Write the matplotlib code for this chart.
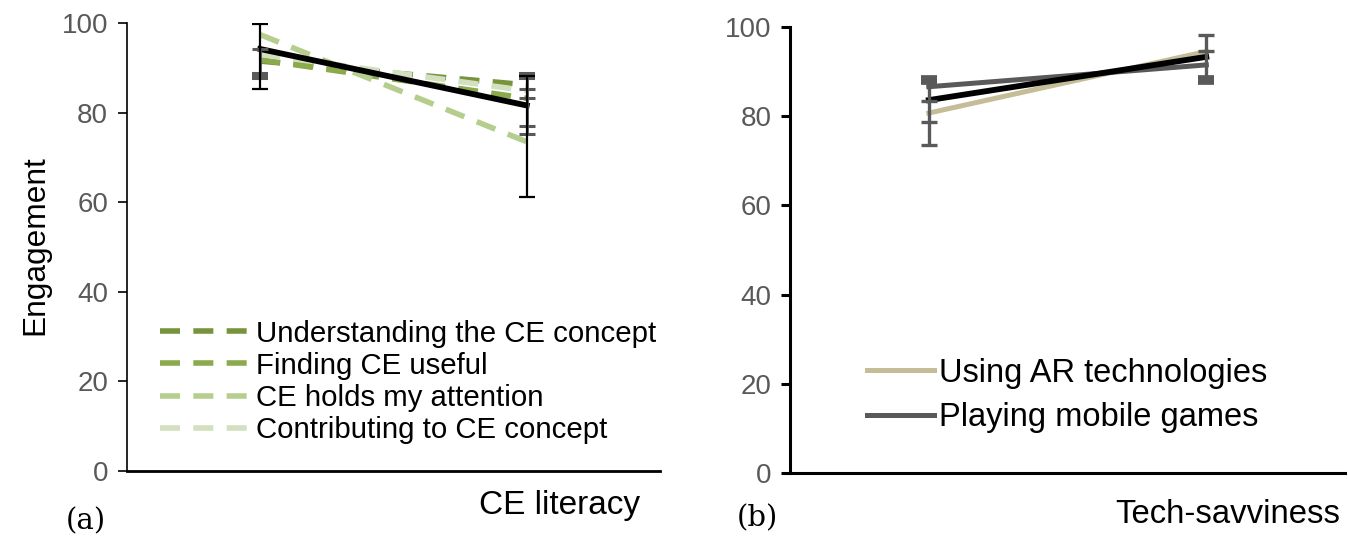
import matplotlib
matplotlib.use("Agg")
import matplotlib.pyplot as plt

plt.rcParams["font.family"] = ["Liberation Sans", "DejaVu Sans"]

# ---------------- data: panel (a) ----------------
levels = [0, 1]
mean_a = [94.2, 81.6]
mean_a_lo = [85.2, 61.1]
mean_a_hi = [99.7, 88.2]

series_a = {
    "Understanding the CE concept": [91.5, 86.2],
    "Finding CE useful": [91.8, 83.2],
    "CE holds my attention": [97.4, 73.5],
    "Contributing to CE concept": [93.0, 84.9],
}
colors_a = ["#77933C", "#8AAA4C", "#B5CE8E", "#D2E0C0"]

gray_bar_a_lo = [88.2, 75.2]
gray_bar_a_hi = [94.3, 88.2]
gray_caps_a = [[94.3], [85.2, 83.2, 77.0, 75.2]]
gray_blocks_a = [88.2, 88.2]

# ---------------- data: panel (b) ----------------
series_b = {
    "Using AR technologies": [80.7, 94.5],
    "Playing mobile games": [86.6, 91.5],
}
colors_b = ["#C4BD97", "#595959"]
mean_b = [83.6, 93.3]

gray_bar_b_lo = [73.5, 88.1]
gray_bar_b_hi = [88.1, 98.2]
gray_caps_b = [[83.5, 78.8, 73.5], [98.2, 94.5]]
gray_blocks_b = [88.1, 88.1]

yticks = [0, 20, 40, 60, 80, 100]
GRAY = "#595959"
TICK_GRAY = "#595959"


def style_axis(ax, spine_w_left, spine_w_bottom, tick_w):
    ax.set_xlim(-0.5, 1.5)
    ax.set_ylim(0, 100)
    ax.set_yticks(yticks)
    ax.set_xticks([])
    for s in ["top", "right"]:
        ax.spines[s].set_visible(False)
    ax.spines["left"].set_linewidth(spine_w_left)
    ax.spines["bottom"].set_linewidth(spine_w_bottom)
    ax.tick_params(axis="y", direction="out", length=6.5, width=tick_w,
                   pad=7, labelsize=20, labelcolor=TICK_GRAY)


def draw_gray_marks(ax, lo, hi, caps, blocks, bar_w, cap_w, block_h):
    ax.vlines(levels, lo, hi, color=GRAY, lw=bar_w, zorder=4)
    for x, vals in zip(levels, caps):
        ax.plot([x] * len(vals), vals, ls="none", marker="_", ms=11,
                mew=cap_w, color=GRAY, zorder=5)
    ax.plot(levels, blocks, ls="none", marker="_", ms=11, mew=block_h,
            color=GRAY, zorder=5)


fig = plt.figure(figsize=(13.48, 5.47), dpi=100)

# ---------------- panel (a) ----------------
ax1 = fig.add_axes([0.0942, 0.1389, 0.3954, 0.8190])
style_axis(ax1, 1.2, 2.0, 1.2)

for (name, vals), c in zip(series_a.items(), colors_a):
    ax1.plot(levels, vals, color=c, lw=4, dashes=(3.6, 2.4),
             label=name, zorder=2)
ax1.plot(levels, mean_a, color="black", lw=4.2, zorder=3)
draw_gray_marks(ax1, gray_bar_a_lo, gray_bar_a_hi, gray_caps_a,
                gray_blocks_a, 2.0, 2.2, 5.8)
ax1.errorbar(levels, mean_a,
             yerr=[[m - l for m, l in zip(mean_a, mean_a_lo)],
                   [h - m for m, h in zip(mean_a, mean_a_hi)]],
             fmt="none", ecolor="black", elinewidth=1.6, capsize=5.5,
             capthick=1.6, zorder=6)

ax1.legend(loc="upper left", bbox_to_anchor=(0.062, 0.338), frameon=False,
           fontsize=21.2, handlelength=3.0, handletextpad=0.25,
           labelspacing=0.14, borderpad=0, borderaxespad=0)
ax1.text(0.9625, -0.076, "CE literacy", transform=ax1.transAxes,
         ha="right", va="center", fontsize=24)

# ---------------- panel (b) ----------------
ax2 = fig.add_axes([0.5861, 0.1353, 0.4117, 0.8154])
style_axis(ax2, 2.2, 2.2, 2.2)

for (name, vals), c in zip(series_b.items(), colors_b):
    ax2.plot(levels, vals, color=c, lw=3.6, label=name, zorder=2)
ax2.plot(levels, mean_b, color="black", lw=4.2, zorder=3)
draw_gray_marks(ax2, gray_bar_b_lo, gray_bar_b_hi, gray_caps_b,
                gray_blocks_b, 2.4, 2.4, 7.0)

ax2.legend(loc="upper left", bbox_to_anchor=(0.1387, 0.258), frameon=False,
           fontsize=23.5, handlelength=2.05, handletextpad=0.15,
           labelspacing=0.4, borderpad=0, borderaxespad=0)
ax2.text(0.991, -0.094, "Tech-savviness", transform=ax2.transAxes,
         ha="right", va="center", fontsize=23.7)

# ---------------- figure texts ----------------
fig.text(0.026, 0.552, "Engagement", rotation=90, ha="center", va="center",
         fontsize=22.8)
fig.text(0.0638, 0.047, "(a)", ha="center", va="center", fontsize=21,
         family=["DejaVu Serif"])
fig.text(0.5616, 0.053, "(b)", ha="center", va="center", fontsize=21,
         family=["DejaVu Serif"])

fig.savefig("out.png", dpi=100)
